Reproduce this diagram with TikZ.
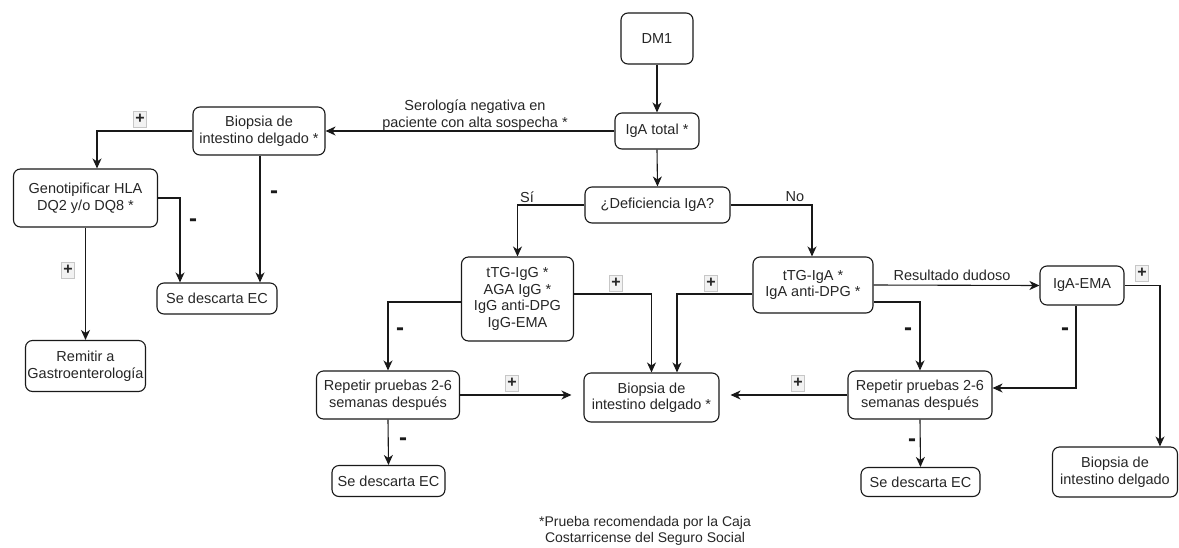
\documentclass[tikz,border=0pt]{standalone}
\usepackage{fontspec}
\setmainfont{Liberation Sans}
\usetikzlibrary{arrows.meta,calc}
\begin{document}
\begin{tikzpicture}[x=1pt,y=-1pt,
  every node/.style={font=\fontsize{14.5}{16.5}\selectfont, text=black!85},
  box/.style={draw=black!90, line width=1.1pt, rounded corners=7pt, align=center, inner sep=1pt},
  arr/.style={draw=black!90, line width=1.1pt, -{Stealth[length=10pt,width=9pt,inset=3pt]}},
  plusbox/.style={draw=black!22, fill=black!5, inner sep=0pt, minimum width=13pt, minimum height=16pt, font=\fontsize{16}{16}\bfseries},
  minus/.style={font=\fontsize{24}{24}\bfseries, inner sep=0pt, text=black!90},
  lbl/.style={inner sep=1pt, align=center}]
\useasboundingbox (0,0) rectangle (1179,547);

% nodes
\node[box, minimum width=72pt, minimum height=51pt] (dm1) at (657,38.5) {DM1};
\node[box, minimum width=84pt, minimum height=36pt] (igat) at (657,131) {IgA total *};
\node[box, minimum width=145pt, minimum height=36pt] (def) at (657.5,205) {¿Deficiencia IgA?};
\node[box, minimum width=132pt, minimum height=48pt] (biop1) at (259,131) {Biopsia de\\intestino delgado *};
\node[box, minimum width=144pt, minimum height=58pt] (geno) at (85.5,198) {Genotipificar HLA\\DQ2 y/o DQ8 *};
\node[box, minimum width=120pt, minimum height=31pt] (desc1) at (217,298.5) {Se descarta EC};
\node[box, minimum width=120pt, minimum height=51pt] (remit) at (85.5,366) {Remitir a\\Gastroenterología};
\node[box, minimum width=112pt, minimum height=84pt] (tigg) at (517.5,299) {tTG-IgG *\\AGA IgG *\\IgG anti-DPG\\IgG-EMA};
\node[box, minimum width=135pt, minimum height=49pt] (biopc) at (651.5,397.5) {Biopsia de\\intestino delgado *};
\node[box, minimum width=120pt, minimum height=56pt] (tiga) at (813,285) {tTG-IgA *\\IgA anti-DPG *};
\node[box, minimum width=84pt, minimum height=39pt] (ema) at (1082,285.5) {IgA-EMA};
\node[box, minimum width=144pt, minimum height=48pt] (rep2) at (920,395) {Repetir pruebas 2-6\\semanas después};
\node[box, minimum width=119pt, minimum height=29pt] (desc3) at (920.5,482) {Se descarta EC};
\node[box, minimum width=125pt, minimum height=50pt] (biopr) at (1115,472) {Biopsia de\\intestino delgado};
\node[box, minimum width=143pt, minimum height=48pt] (rep1) at (388,395) {Repetir pruebas 2-6\\semanas después};
\node[box, minimum width=113pt, minimum height=31pt] (desc2) at (388.5,481) {Se descarta EC};

% connectors
\draw[arr] (dm1.south) -- (igat.north);
\draw[arr] (igat.south) -- (def.north);
\draw[arr] (igat.west) -- (biop1.east);
\draw[arr] (biop1.west) -| ($(geno.north)+(11.5,0)$);
\draw[arr] (geno.east) -| ($(desc1.north)+(-37,0)$);
\draw[arr] ($(biop1.south)+(1,0)$) -- ($(biop1.south |- desc1.north)+(1,0)$);
\draw[arr] (geno.south) -- (remit.north);
\draw[arr] (def.west) -| (tigg.north);
\draw[arr] (def.east) -| ($(tiga.north)+(-1,0)$);
\draw[arr] ($(tigg.east)+(0,-5)$) -| (biopc.north);
\draw[arr] ($(tiga.west)+(0,9)$) -| ($(biopc.north)+(25.5,0)$);
\draw[arr] (tiga.east) -- (ema.west);
\draw[arr] (ema.east) -| ($(biopr.north)+(45,0)$);
\draw[arr] ($(ema.south)+(-6,0)$) |- ($(rep2.east)+(0,-7)$);
\draw[arr] ($(tiga.east)+(0,17)$) -| (rep2.north);
\draw[arr, shorten >=11pt] (rep2.west) -- (rep2.west -| biopc.east);
\draw[arr] (rep2.south) -- (desc3.north);
\draw[arr] ($(tigg.west)+(0,3)$) -| (rep1.north);
\draw[arr, shorten >=12pt] (rep1.east) -- (rep1.east -| biopc.west);
\draw[arr] (rep1.south) -- (desc2.north);

% edge labels
\node[lbl] (lserol) at (475,115) {Serología negativa en\\paciente con alta sospecha *};
\node[lbl] (lsi) at (527,197) {Sí};
\node[lbl] (lno) at (795,197) {No};
\node[lbl] (ldud) at (952,275) {Resultado dudoso};

% plus / minus marks
\node[plusbox] (p1) at (140,119) {+};
\node[plusbox] (p2) at (68,270) {+};
\node[plusbox] (p3) at (616,283) {+};
\node[plusbox] (p4) at (711,283) {+};
\node[plusbox] (p5) at (1142,273) {+};
\node[plusbox] (p6) at (512,383) {+};
\node[plusbox] (p7) at (798,383) {+};
\node[minus] (m1) at (193,223) {-};
\node[minus] (m2) at (274,195) {-};
\node[minus] (m3) at (400,332) {-};
\node[minus] (m4) at (403,442) {-};
\node[minus] (m5) at (908,332) {-};
\node[minus] (m6) at (1065,332) {-};
\node[minus] (m7) at (912,443) {-};

% footnote
\node[lbl, font=\fontsize{14}{16}\selectfont] (foot) at (645,531) {*Prueba recomendada por la Caja\\Costarricense del Seguro Social};
\end{tikzpicture}
\end{document}
